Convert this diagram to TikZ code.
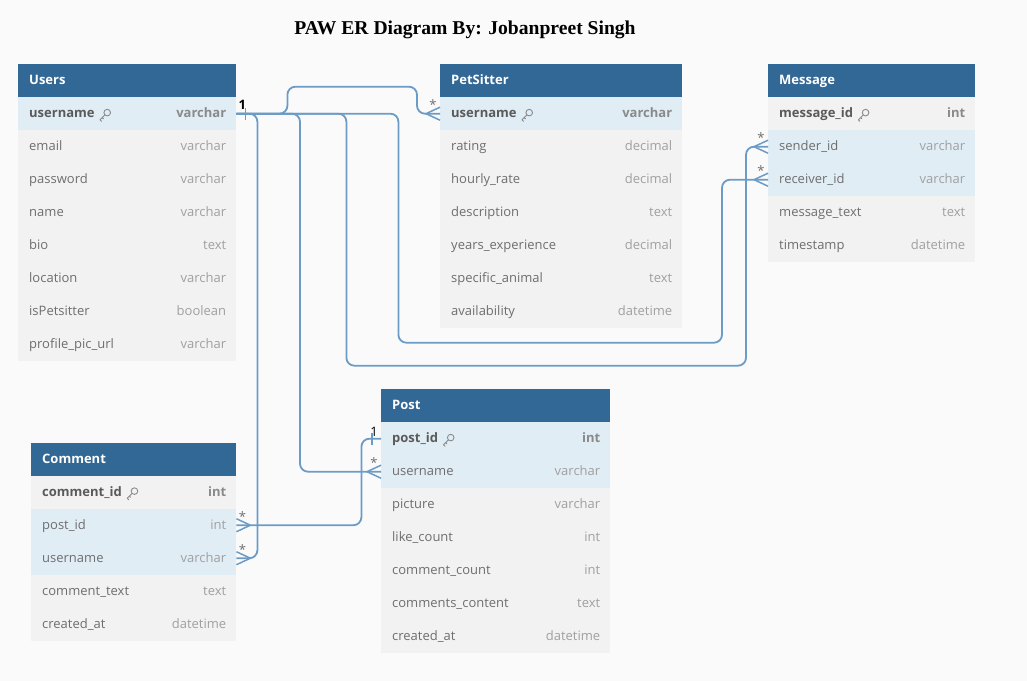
\documentclass[tikz,border=0pt]{standalone}
\usepackage{fontspec}
\setmainfont{Open Sans}
\newfontfamily\titlefont{Liberation Serif}
\definecolor{bgc}{RGB}{250,250,251}
\definecolor{rowgray}{RGB}{242,242,243}
\definecolor{rowblue}{RGB}{224,237,245}
\definecolor{hdrc}{RGB}{50,104,150}
\definecolor{connc}{RGB}{108,156,198}
\definecolor{namec}{RGB}{110,110,110}
\definecolor{typec}{RGB}{160,160,160}
\definecolor{keync}{RGB}{90,90,90}
\definecolor{keytc}{RGB}{138,138,138}
\tikzset{
  hdrbox/.style={rectangle, fill=hdrc, draw=none, inner sep=0pt, minimum height=33pt},
  hdrtext/.style={inner sep=0pt, text=white, font=\fontsize{13}{15}\selectfont\bfseries, text height=9.5pt, text depth=2.6pt, yshift=-0.8pt},
  rowbox/.style={rectangle, draw=none, inner sep=0pt, minimum height=33pt},
  plainname/.style={inner sep=0pt, text=namec, font=\fontsize{13}{15}\selectfont, text height=9.5pt, text depth=2.6pt, yshift=-0.8pt},
  plaintype/.style={inner sep=0pt, text=typec, font=\fontsize{13}{15}\selectfont, text height=9.5pt, text depth=2.6pt, yshift=-0.8pt},
  keyname/.style={inner sep=0pt, text=keync, font=\fontsize{13}{15}\selectfont\bfseries, text height=9.5pt, text depth=2.6pt, yshift=-0.8pt},
  keytype/.style={inner sep=0pt, text=keytc, font=\fontsize{13}{15}\selectfont\bfseries, text height=9.5pt, text depth=2.6pt, yshift=-0.8pt},
  conn/.style={draw=connc, line width=1.8pt, rounded corners=8pt},
  foot/.style={draw=connc, line width=1.5pt},
  cardlabel/.style={inner sep=0pt, font=\fontsize{13}{15}\selectfont},
  keyic/.pic={\draw[keytc, line width=0.9pt] (2.4,-2.4) circle[radius=3.3pt];
              \draw[keytc, line width=0.9pt, line cap=round, line join=round] (0,0) -- (-4.8,4.8) -- (-3.3,6.3) (-2.6,2.6) -- (-1.4,3.8);}
}
% id, x, top y, width, title
\newcommand\erheader[5]{%
  \node[hdrbox, minimum width=#4pt, anchor=north west] (#1) at (#2,#3) {};
  \node[hdrtext, anchor=west] (#1-title) at ([xshift=11pt]#1.west) {#5};}
% id, x, top y, width, fill, style prefix, name, type
\newcommand\errow[8]{%
  \node[rowbox, fill=#5, minimum width=#4pt, anchor=north west] (#1) at (#2,#3) {};
  \node[#6name, anchor=west] (#1-n) at ([xshift=11pt]#1.west) {#7};
  \node[#6type, anchor=east] (#1-t) at ([xshift=-10pt]#1.east) {#8};}
\newcommand\erkey[1]{\pic at ([xshift=10pt,yshift=-0.5pt]#1-n.east) {keyic};}
\newcommand\crowW[1]{\draw[foot] ([xshift=-14pt]#1.west) -- ([yshift=-6.5pt]#1.west) ([xshift=-14pt]#1.west) -- ([yshift=6.5pt]#1.west);}
\newcommand\crowE[1]{\draw[foot] ([xshift=14pt]#1.east) -- ([yshift=-6.5pt]#1.east) ([xshift=14pt]#1.east) -- ([yshift=6.5pt]#1.east);}
\begin{document}
\begin{tikzpicture}[x=1pt,y=-1pt]
\fill[bgc] (0,0) rectangle (1027,681);
\useasboundingbox (0,0) rectangle (1027,681);
\node[inner sep=0pt] (title) at (465,29.5) {\titlefont\bfseries\fontsize{19.6}{22}\selectfont PAW ER Diagram By: Jobanpreet Singh};

% Users
\erheader{u}{18}{64}{218}{Users}
\errow{u1}{18}{97}{218}{rowblue}{key}{username}{varchar}\erkey{u1}
\errow{u2}{18}{130}{218}{rowgray}{plain}{email}{varchar}
\errow{u3}{18}{163}{218}{rowgray}{plain}{password}{varchar}
\errow{u4}{18}{196}{218}{rowgray}{plain}{name}{varchar}
\errow{u5}{18}{229}{218}{rowgray}{plain}{bio}{text}
\errow{u6}{18}{262}{218}{rowgray}{plain}{location}{varchar}
\errow{u7}{18}{295}{218}{rowgray}{plain}{isPetsitter}{boolean}
\errow{u8}{18}{328}{218}{rowgray}{plain}{profile\_pic\_url}{varchar}

% PetSitter
\erheader{s}{440}{64}{242}{PetSitter}
\errow{s1}{440}{97}{242}{rowblue}{key}{username}{varchar}\erkey{s1}
\errow{s2}{440}{130}{242}{rowgray}{plain}{rating}{decimal}
\errow{s3}{440}{163}{242}{rowgray}{plain}{hourly\_rate}{decimal}
\errow{s4}{440}{196}{242}{rowgray}{plain}{description}{text}
\errow{s5}{440}{229}{242}{rowgray}{plain}{years\_experience}{decimal}
\errow{s6}{440}{262}{242}{rowgray}{plain}{specific\_animal}{text}
\errow{s7}{440}{295}{242}{rowgray}{plain}{availability}{datetime}

% Message
\erheader{m}{768}{64}{207}{Message}
\errow{m1}{768}{97}{207}{rowgray}{key}{message\_id}{int}\erkey{m1}
\errow{m2}{768}{130}{207}{rowblue}{plain}{sender\_id}{varchar}
\errow{m3}{768}{163}{207}{rowblue}{plain}{receiver\_id}{varchar}
\errow{m4}{768}{196}{207}{rowgray}{plain}{message\_text}{text}
\errow{m5}{768}{229}{207}{rowgray}{plain}{timestamp}{datetime}

% Post
\erheader{p}{381}{389}{229}{Post}
\errow{p1}{381}{422}{229}{rowblue}{key}{post\_id}{int}\erkey{p1}
\errow{p2}{381}{455}{229}{rowblue}{plain}{username}{varchar}
\errow{p3}{381}{488}{229}{rowgray}{plain}{picture}{varchar}
\errow{p4}{381}{521}{229}{rowgray}{plain}{like\_count}{int}
\errow{p5}{381}{554}{229}{rowgray}{plain}{comment\_count}{int}
\errow{p6}{381}{587}{229}{rowgray}{plain}{comments\_content}{text}
\errow{p7}{381}{620}{229}{rowgray}{plain}{created\_at}{datetime}

% Comment
\erheader{c}{31}{442.5}{205}{Comment}
\errow{c1}{31}{475.5}{205}{rowgray}{key}{comment\_id}{int}\erkey{c1}
\errow{c2}{31}{508.5}{205}{rowblue}{plain}{post\_id}{int}
\errow{c3}{31}{541.5}{205}{rowblue}{plain}{username}{varchar}
\errow{c4}{31}{574.5}{205}{rowgray}{plain}{comment\_text}{text}
\errow{c5}{31}{607.5}{205}{rowgray}{plain}{created\_at}{datetime}

% connectors
\draw[conn] (u1.east) -- ++(51,0) -- ++(0,-27) -| ([xshift=-23pt]s1.west) -- (s1.west);
\draw[conn] (u1.east) -| ++(162,229) -| ([xshift=-46pt]m3.west) -- (m3.west);
\draw[conn] (u1.east) -| ++(110,252) -| ([xshift=-22pt]m2.west) -- (m2.west);
\draw[conn] (u1.east) -| ([xshift=-81pt]p2.west) -- (p2.west);
\draw[conn] (u1.east) -| ([xshift=21pt]c3.east) -- (c3.east);
\draw[conn] (p1.west) -| ([xshift=125pt]c2.east) -- (c2.east);

% ends
\crowW{s1}\crowW{m2}\crowW{m3}\crowW{p2}
\crowE{c2}\crowE{c3}
\draw[foot] ([xshift=9pt,yshift=-6pt]u1.east) -- ([xshift=9pt,yshift=6pt]u1.east);
\draw[foot] ([xshift=-9pt,yshift=-6pt]p1.west) -- ([xshift=-9pt,yshift=6pt]p1.west);
\node[cardlabel] (one1) at ([xshift=6pt,yshift=8.5pt]u1.east) {\bfseries 1};
\node[cardlabel] (one2) at ([xshift=-7pt,yshift=7pt]p1.west) {1};
\node[cardlabel, text=namec] (st1) at ([xshift=-7pt,yshift=9pt]s1.west) {*};
\node[cardlabel, text=namec] (st2) at ([xshift=-7pt,yshift=9pt]m2.west) {*};
\node[cardlabel, text=namec] (st3) at ([xshift=-7pt,yshift=9pt]m3.west) {*};
\node[cardlabel, text=namec] (st4) at ([xshift=-7pt,yshift=9pt]p2.west) {*};
\node[cardlabel, text=namec] (st5) at ([xshift=6pt,yshift=9pt]c2.east) {*};
\node[cardlabel, text=namec] (st6) at ([xshift=6pt,yshift=9pt]c3.east) {*};
\end{tikzpicture}
\end{document}
